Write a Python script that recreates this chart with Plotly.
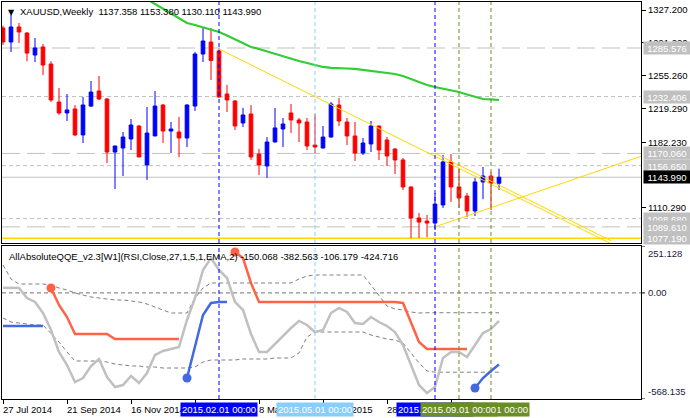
import plotly.graph_objects as go
import pandas as pd

# ---------------- data ----------------
weeks = pd.date_range("2014-07-27", periods=63, freq="7D")

opens = [1307.5, 1292.1, 1308.6, 1302.0, 1277.9, 1286.7, 1268.0, 1226.4, 1214.4, 1218.8,
         1190.3, 1221.9, 1238.5, 1229.7, 1171.6, 1176.0, 1185.9, 1200.1, 1157.4, 1189.2,
         1223.1, 1194.6, 1193.5, 1187.0, 1222.0, 1279.0, 1292.1, 1282.3, 1235.2, 1227.5,
         1203.4, 1213.3, 1169.4, 1156.3, 1182.6, 1196.8, 1214.4, 1206.7, 1204.5, 1179.3,
         1176.0, 1188.0, 1223.1, 1204.5, 1189.2, 1170.5, 1180.4, 1200.1, 1184.8, 1174.9,
         1162.9, 1133.3, 1099.3, 1096.0, 1093.8, 1113.6, 1160.7, 1133.3, 1123.4, 1107.0,
         1138.8, 1145.3, 1137.358]
highs = [1310.0, 1321.7, 1313.0, 1303.0, 1296.5, 1290.0, 1271.0, 1241.7, 1235.2, 1223.0,
         1231.9, 1249.4, 1254.9, 1230.8, 1178.5, 1193.5, 1207.8, 1201.2, 1220.9, 1238.5,
         1224.2, 1204.5, 1210.0, 1224.0, 1281.2, 1307.5, 1307.5, 1285.0, 1245.0, 1228.6,
         1220.0, 1223.0, 1175.0, 1188.0, 1219.8, 1208.9, 1224.2, 1208.9, 1208.9, 1213.3,
         1200.1, 1226.4, 1230.8, 1208.9, 1204.5, 1187.0, 1205.6, 1200.5, 1188.0, 1176.0,
         1165.0, 1133.8, 1104.8, 1102.6, 1126.7, 1168.3, 1169.4, 1154.0, 1126.7, 1143.2,
         1155.2, 1149.7, 1153.380]
lows = [1289.0, 1281.2, 1291.0, 1271.0, 1270.2, 1256.0, 1226.4, 1212.2, 1205.6, 1189.0,
        1181.5, 1220.9, 1228.6, 1159.6, 1131.1, 1145.3, 1173.8, 1166.0, 1141.0, 1189.0,
        1181.5, 1170.5, 1166.0, 1177.0, 1216.6, 1270.2, 1250.5, 1231.0, 1215.5, 1195.7,
        1199.0, 1162.9, 1146.4, 1143.2, 1182.0, 1177.0, 1192.4, 1182.6, 1173.8, 1170.5,
        1175.5, 1187.5, 1200.1, 1179.3, 1161.8, 1168.3, 1171.6, 1162.9, 1156.3, 1147.5,
        1130.0, 1077.4, 1077.4, 1078.5, 1086.2, 1110.3, 1116.9, 1110.3, 1100.4, 1101.5,
        1120.0, 1108.0, 1130.110]
closes = [1292.1, 1308.6, 1303.1, 1280.0, 1285.6, 1266.9, 1228.6, 1214.4, 1217.7, 1190.3,
          1223.1, 1237.3, 1229.7, 1171.6, 1178.2, 1188.0, 1201.2, 1166.2, 1192.4, 1222.0,
          1194.6, 1196.8, 1187.0, 1223.1, 1279.0, 1293.2, 1272.0, 1231.9, 1228.6, 1200.1,
          1212.2, 1166.2, 1157.4, 1182.6, 1198.0, 1202.3, 1206.7, 1203.4, 1178.2, 1177.1,
          1188.0, 1224.2, 1205.6, 1189.2, 1170.5, 1181.5, 1200.1, 1173.8, 1167.3, 1162.9,
          1133.3, 1099.3, 1094.9, 1093.8, 1114.6, 1160.7, 1133.3, 1121.2, 1107.0, 1138.8,
          1145.3, 1137.4, 1143.990]

# moving average (green), from bar 18 on
ma_start = 18
ma_values = [1339.0, 1333.8, 1328.0, 1322.8, 1317.9, 1313.0, 1310.8, 1308.0, 1305.8, 1303.1,
             1299.3, 1295.4, 1291.0, 1286.7, 1284.5, 1281.7, 1279.0, 1276.8, 1274.1, 1271.3,
             1269.1, 1266.9, 1264.8, 1263.7, 1263.7, 1263.1, 1262.6, 1261.5, 1260.4, 1259.8,
             1258.7, 1257.1, 1254.9, 1251.6, 1248.3, 1245.0, 1242.8, 1241.2, 1239.6, 1237.4,
             1234.6, 1231.9, 1229.7, 1229.2, 1228.6]

# trend lines (date, price pairs)
trend1_dates = ["2015-02-01", "2016-01-10"]
trend1_prices = [1284.5, 1071.1]
trend2_dates = ["2015-08-09", "2016-01-10"]
trend2_prices = [1170.2, 1074.4]
trend3_dates = ["2015-08-09", "2016-02-07"]
trend3_prices = [1089.6, 1167.7]

# horizontal levels: (price, style)
level_prices = [1285.576, 1232.406, 1170.060, 1156.650, 1098.680, 1089.610]
level_dash = ["18px,7px", "4px,3px", "18px,7px", "4px,3px", "4px,3px", "18px,7px"]
bid_price = 1143.990
yellow_level = 1077.190

price_ticks = [1327.200, 1291.220, 1255.260, 1219.290, 1182.230, 1110.290]

# vertical lines
vline_dates = ["2015-02-01", "2015-04-26", "2015-08-09", "2015-09-27", "2015-08-30"]
vline_colors = ["#0000ff", "#87cefa", "#0000ff", "#6b8e23", "#6b8e23"]
vline_labels = ["2015.02.01 00:00", "2015.05.01 00:00", "2015.08.10 00:00",
                "2015.10.01 00:00", "2015.09.01 00:00"]

# x tick labels (None = fully hidden under a vertical-line label box)
x_tick_labels = ["27 Jul 2014", "21 Sep 2014", "16 Nov 2014", None,
                 "8 Mar 2015", "3 May 2015", "28 Jun 2015", None]

# indicator (QQE) values per bar
qqe_main = [27.8, 27.8, 26.2, -27.3, -48.8, -107.7, -198.7, -316.5, -386.1, -477.2,
            -455.7, -391.5, -354.0, -450.4, -503.9, -493.2, -445.0, -482.5, -429.0, -332.6,
            -311.1, -300.4, -289.7, -145.1, -27.3, 122.6, 186.9, 122.6, 79.8, -48.8,
            -91.6, -220.1, -316.5, -316.5, -273.6, -225.5, -188.0, -150.5, -171.9, -209.4,
            -198.7, -107.7, -80.9, -102.3, -161.2, -166.6, -129.1, -155.9, -177.3, -209.4,
            -279.0, -386.1, -493.2, -536.1, -503.9, -348.6, -316.5, -316.5, -343.3, -279.0,
            -214.8, -193.4, -150.068]
qqe_upper = [149.4, 74.4, 47.6, 47.6, 47.6, 47.6, 42.3, 26.2, 15.5, -0.6,
             -11.3, -22.0, -27.3, -32.7, -38.0, -38.0, -43.4, -48.8, -59.5, -75.5,
             -91.6, -107.7, -107.7, -107.7, -27.3, 26.2, 53.0, 53.0, 53.0, 53.0,
             53.0, 53.0, 53.0, 53.0, 53.0, 53.0, 53.0, 74.4, 90.5, 95.8,
             95.8, 95.8, 95.8, 95.8, 95.8, 95.8, 42.3, -16.6, -70.2, -86.2,
             -91.6, -102.3, -107.7, -106.2, -106.2, -106.2, -106.2, -106.2, -106.2, -106.2,
             -106.2, -106.2, -106.179]
qqe_lower = [-134.4, -155.9, -161.2, -166.6, -171.9, -171.9, -214.8, -263.0, -316.5, -364.7,
             -364.7, -364.7, -364.7, -370.0, -380.8, -386.1, -391.5, -391.5, -396.8, -396.8,
             -402.2, -402.2, -402.2, -402.2, -396.8, -370.0, -359.3, -359.3, -359.3, -359.3,
             -354.0, -354.0, -354.0, -354.0, -348.6, -348.6, -348.6, -321.8, -236.2, -209.4,
             -209.4, -209.4, -209.4, -209.4, -209.4, -209.4, -225.5, -236.2, -246.9, -252.3,
             -268.3, -321.8, -375.4, -418.3, -424.7, -424.7, -424.7, -424.7, -424.7, -424.7,
             -424.7, -424.7, -424.716]

# colored trend segments: (start bar, values)
red_segments = [
    (6, [26.2, -64.8, -129.1, -220.1, -220.1, -220.1, -220.1, -220.1, -246.9, -246.9,
         -246.9, -246.9, -246.9, -246.9, -246.9, -246.9, -246.9]),
    (29, [219.0, 186.9, 53.0, -48.8, -48.8, -48.8, -48.8, -48.8, -48.8, -48.8,
          -48.8, -48.8, -48.8, -48.8, -48.8, -48.8, -48.8, -48.8, -48.8, -48.8,
          -48.8, -54.1, -161.2, -263.0, -300.4, -300.4, -300.4, -300.4, -300.4, -300.4]),
]
blue_segments = [
    (0, [-177.3, -177.3, -177.3, -177.3, -177.3, -177.3]),
    (23, [-455.7, -279.0, -118.4, -54.1, -48.8, -48.8]),
    (59, [-509.3, -455.7, -418.3, -382.563]),
]
blue_dot_segments = [1, 2]

qqe_max = 251.128
qqe_min = -568.135

# ---------------- figure ----------------
FONT = "Liberation Sans, Arial, sans-serif"
fig = go.Figure()

# top pane
fig.add_trace(go.Candlestick(
    x=weeks, open=opens, high=highs, low=lows, close=closes,
    xaxis="x2", yaxis="y", whiskerwidth=0,
    increasing=dict(line=dict(color="#0000ff", width=1), fillcolor="#0000ff"),
    decreasing=dict(line=dict(color="#ff0000", width=1), fillcolor="#ff0000"),
    showlegend=False, hoverinfo="skip"))

fig.add_trace(go.Scatter(x=weeks[ma_start:], y=ma_values, mode="lines",
                         line=dict(color="#32cd32", width=2.2), xaxis="x2", yaxis="y",
                         showlegend=False, hoverinfo="skip"))

for dts, prs in [(trend1_dates, trend1_prices), (trend2_dates, trend2_prices),
                 (trend3_dates, trend3_prices)]:
    fig.add_trace(go.Scatter(x=pd.to_datetime(dts), y=prs, mode="lines",
                             line=dict(color="#ffd700", width=1), xaxis="x2", yaxis="y",
                             showlegend=False, hoverinfo="skip"))

# bottom pane
fig.add_trace(go.Scatter(x=weeks, y=qqe_upper, mode="lines",
                         line=dict(color="#808080", width=1, dash="4px,3px"),
                         showlegend=False, hoverinfo="skip", xaxis="x", yaxis="y2"))
fig.add_trace(go.Scatter(x=weeks, y=qqe_lower, mode="lines",
                         line=dict(color="#808080", width=1, dash="4px,3px"),
                         showlegend=False, hoverinfo="skip", xaxis="x", yaxis="y2"))
fig.add_trace(go.Scatter(x=weeks, y=qqe_main, mode="lines",
                         line=dict(color="#c0c0c0", width=2.5),
                         showlegend=False, hoverinfo="skip", xaxis="x", yaxis="y2"))

for s, vals in red_segments:
    fig.add_trace(go.Scatter(x=weeks[s:s + len(vals)], y=vals, mode="lines",
                             line=dict(color="#ff6347", width=2.5),
                             showlegend=False, hoverinfo="skip", xaxis="x", yaxis="y2"))
    fig.add_trace(go.Scatter(x=[weeks[s]], y=[vals[0]], mode="markers",
                             marker=dict(color="#ff6347", size=9),
                             showlegend=False, hoverinfo="skip", xaxis="x", yaxis="y2",
                             cliponaxis=False))
for k, (s, vals) in enumerate(blue_segments):
    fig.add_trace(go.Scatter(x=weeks[s:s + len(vals)], y=vals, mode="lines",
                             line=dict(color="#4169e1", width=2.5),
                             showlegend=False, hoverinfo="skip", xaxis="x", yaxis="y2"))
    if k in blue_dot_segments:
        fig.add_trace(go.Scatter(x=[weeks[s]], y=[vals[0]], mode="markers",
                                 marker=dict(color="#4169e1", size=9),
                                 showlegend=False, hoverinfo="skip", xaxis="x", yaxis="y2"))

shapes = []
# horizontal levels
for p, d in zip(level_prices, level_dash):
    shapes.append(dict(type="line", xref="paper", x0=0, x1=1, yref="y", y0=p, y1=p,
                       line=dict(color="#c0c0c0", width=1, dash=d), layer="below"))
shapes.append(dict(type="line", xref="paper", x0=0, x1=1, yref="y", y0=bid_price, y1=bid_price,
                   line=dict(color="#c0c0c0", width=1), layer="below"))
shapes.append(dict(type="line", xref="paper", x0=0, x1=1, yref="y", y0=yellow_level,
                   y1=yellow_level, line=dict(color="#ffd700", width=1.5), layer="below"))
# zero line bottom pane
shapes.append(dict(type="line", xref="paper", x0=0, x1=1, yref="y2", y0=0, y1=0,
                   line=dict(color="#707070", width=1, dash="4px,3px"), layer="below"))
# vertical lines in both panes
for d, c in zip(vline_dates, vline_colors):
    for yr in ["y domain", "y2 domain"]:
        shapes.append(dict(type="line", xref="x", x0=d, x1=d, yref=yr, y0=0, y1=1,
                           line=dict(color=c, width=1, dash="4px,3px"), layer="above"))
# small ticks for indicator labels
for v in [qqe_max, 0, qqe_min]:
    shapes.append(dict(type="line", xref="paper", x0=1, x1=1 + 4 / 639, yref="y2",
                       y0=v, y1=v, line=dict(color="black", width=1)))

annotations = []
# titles
annotations.append(dict(xref="paper", yref="paper", x=0, y=1, xanchor="left", yanchor="top",
                        xshift=4, yshift=-4, showarrow=False, text="▼",
                        font=dict(family="DejaVu Sans", size=8, color="black")))
annotations.append(dict(xref="paper", yref="paper", x=0, y=1, xanchor="left", yanchor="top",
                        xshift=16, yshift=-2, showarrow=False,
                        text="XAUUSD,Weekly  " + " ".join(f"{v:.3f}" for v in
                             [opens[-1], highs[-1], lows[-1], closes[-1]]),
                        font=dict(family=FONT, size=9.5, color="black")))
annotations.append(dict(xref="paper", yref="y2 domain", x=0, y=1, xanchor="left",
                        yanchor="top", xshift=5, yshift=-3, showarrow=False,
                        text="AllAbsoluteQQE_v2.3[W1](RSI,Close,27,1,5,1,EMA,2) "
                             + " ".join(f"{v:.3f}" for v in
                                        [qqe_main[-1], blue_segments[-1][1][-1],
                                         qqe_upper[-1], qqe_lower[-1]]),
                        font=dict(family=FONT, size=9.5, color="black")))
# right price boxes
for p in level_prices + [yellow_level]:
    annotations.append(dict(xref="paper", x=1, xanchor="left", xshift=2, yref="y", y=p,
                            yanchor="middle", showarrow=False, text=f"{p:.3f}",
                            bgcolor="#c0c0c0", borderpad=1, width=44, height=10,
                            font=dict(family=FONT, size=9.5, color="white")))
annotations.append(dict(xref="paper", x=1, xanchor="left", xshift=2, yref="y", y=bid_price,
                        yanchor="middle", showarrow=False, text=f"{bid_price:.3f}",
                        bgcolor="#000000", borderpad=1, width=44, height=10,
                        font=dict(family=FONT, size=9.5, color="white")))
# indicator scale labels
for v, ya, txt in [(qqe_max, "top", f"{qqe_max:.3f}"), (0, "middle", "0.00"),
                   (qqe_min, "bottom", f"{qqe_min:.3f}")]:
    annotations.append(dict(xref="paper", x=1, xanchor="left", xshift=5, yref="y2", y=v,
                            yanchor=ya, showarrow=False, text=txt,
                            font=dict(family=FONT, size=9.5, color="#1a1a3a")))
# x tick labels (left aligned at tick)
tick_dates = weeks[::8]
for d, t in zip(tick_dates, x_tick_labels):
    if t is None:
        continue
    annotations.append(dict(xref="x", x=d, xanchor="left", xshift=-2, yref="paper", y=0,
                            yanchor="top", yshift=-3, showarrow=False, text=t,
                            font=dict(family=FONT, size=9.5, color="black")))
# vertical line label boxes
for d, c, t in zip(vline_dates, vline_colors, vline_labels):
    annotations.append(dict(xref="x", x=d, xanchor="center", yref="paper", y=0,
                            yanchor="top", yshift=-3, showarrow=False, text=t,
                            bgcolor=c, borderpad=1,
                            font=dict(family=FONT, size=9.5, color="white")))

fig.update_layout(
    width=690, height=418,
    margin=dict(l=2, r=49, t=2, b=19),
    paper_bgcolor="white", plot_bgcolor="white",
    font=dict(family=FONT, size=9.5, color="black"),
    showlegend=False, boxgap=0.35,
    xaxis=dict(domain=[0, 1], anchor="y2", type="date",
               range=["2014-07-26 03:00", "2016-02-05 06:00"],
               showgrid=False, zeroline=False, showline=True, mirror=True,
               linecolor="black", linewidth=1, ticks="outside", ticklen=4,
               tickcolor="black", tickvals=list(tick_dates), showticklabels=False,
               rangeslider=dict(visible=False), fixedrange=True),
    xaxis2=dict(anchor="y", matches="x", type="date", showticklabels=False,
                showgrid=False, zeroline=False, showline=True, mirror=True,
                linecolor="black", linewidth=1, ticks="",
                rangeslider=dict(visible=False)),
    yaxis=dict(domain=[0.393, 1], anchor="x2", side="right",
               range=[1071.95, 1335.96], showgrid=False, zeroline=False,
               showline=True, mirror=True, linecolor="black", linewidth=1,
               ticks="outside", ticklen=4, tickcolor="black",
               tickvals=price_ticks, ticktext=[f"{v:.3f}" for v in price_ticks],
               tickfont=dict(family=FONT, size=9.5, color="black")),
    yaxis2=dict(domain=[0, 0.3854], anchor="x", side="right",
                range=[qqe_min, qqe_max], showgrid=False, zeroline=False,
                showline=True, mirror=True, linecolor="black", linewidth=1,
                showticklabels=False, ticks=""),
    shapes=shapes, annotations=annotations,
)

fig.write_html("out.html")
